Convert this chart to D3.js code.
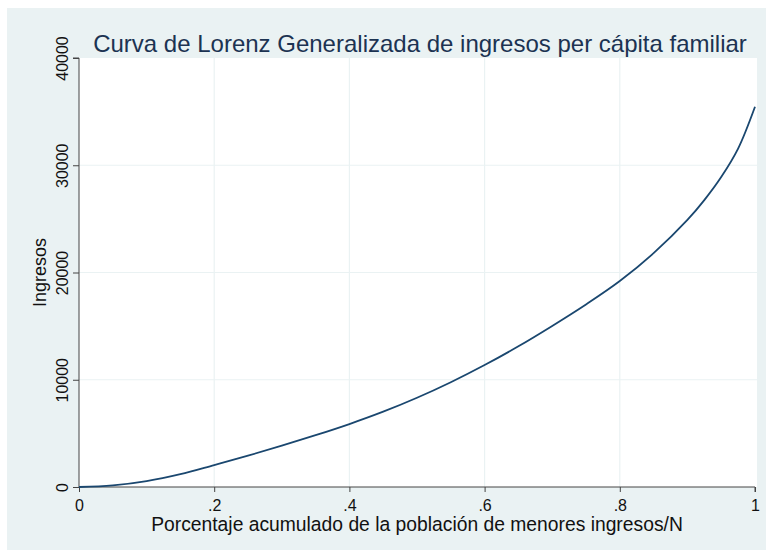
<!DOCTYPE html>
<html>
<head>
<meta charset="utf-8">
<script src="https://cdn.jsdelivr.net/npm/d3@7"></script>
<style>
  body { margin: 0; background: #ffffff; }
  text { font-family: "Liberation Sans", Arial, sans-serif; }
</style>
</head>
<body>
<div id="chart"></div>
<script>
// cumulative population share (p) and generalized Lorenz ordinate (income)
const shares = [0, 0.05, 0.1, 0.15, 0.2, 0.25, 0.3, 0.35, 0.4, 0.45, 0.5, 0.55, 0.6,
                0.65, 0.7, 0.75, 0.8, 0.85, 0.9, 0.925, 0.95, 0.975, 1];
const incomes = [0, 150, 550, 1200, 2050, 2920, 3850, 4830, 5870, 7020, 8320, 9770, 11370,
                 13120, 15020, 17020, 19200, 21800, 24900, 26750, 28900, 31550, 35450];
const xTicks = [0, 0.2, 0.4, 0.6, 0.8, 1];
const xTickLabels = ['0', '.2', '.4', '.6', '.8', '1'];
const yTicks = [0, 10000, 20000, 30000, 40000];

const W = 766, H = 550;
const plotLeft = 79, plotRight = 755, plotTop = 58, plotBottom = 487;

const svg = d3.select('#chart').append('svg')
    .attr('width', W)
    .attr('height', H);

// outer graph region
svg.append('rect')
    .attr('x', 7).attr('y', 8)
    .attr('width', W - 7).attr('height', H - 8)
    .style('fill', '#eaf2f3');

// plot region
svg.append('rect')
    .attr('x', plotLeft).attr('y', plotTop)
    .attr('width', plotRight - plotLeft + 2).attr('height', plotBottom - plotTop)
    .style('fill', '#ffffff');

const x = d3.scaleLinear().domain([0, 1]).range([plotLeft, plotRight]);
const y = d3.scaleLinear().domain([0, 40000]).range([plotBottom, plotTop]);

// grid lines
svg.append('g').selectAll('line')
    .data(xTicks.filter(d => d > 0 && d < 1))
    .join('line')
      .attr('x1', d => x(d)).attr('x2', d => x(d))
      .attr('y1', plotTop).attr('y2', plotBottom)
      .style('stroke', '#eaf2f3')
      .style('stroke-width', 1.2);

svg.append('g').selectAll('line')
    .data(yTicks.filter(d => d > 0 && d < 40000))
    .join('line')
      .attr('x1', plotLeft).attr('x2', plotRight + 2)
      .attr('y1', d => y(d)).attr('y2', d => y(d))
      .style('stroke', '#eaf2f3')
      .style('stroke-width', 1.2);

// axes
const xAxis = d3.axisBottom(x)
    .tickValues(xTicks)
    .tickFormat((d, i) => xTickLabels[i])
    .tickSize(5)
    .tickPadding(8);

const gx = svg.append('g')
    .attr('transform', `translate(0,${plotBottom})`)
    .call(xAxis);
gx.select('.domain').attr('d', `M${plotLeft},0H${plotRight}V5`).style('stroke', '#444');
gx.selectAll('.tick line').style('stroke', '#444');
gx.selectAll('.tick text')
    .style('font-size', '16px')
    .style('fill', '#111')
    .style('font-family', '"Liberation Sans", Arial, sans-serif');

const yAxis = d3.axisLeft(y)
    .tickValues(yTicks)
    .tickFormat(d3.format('d'))
    .tickSize(6)
    .tickPadding(4);

const gy = svg.append('g')
    .attr('transform', `translate(${plotLeft},0)`)
    .call(yAxis);
gy.select('.domain').attr('d', `M-6,${plotTop}H0V${plotBottom}`).style('stroke', '#444');
gy.selectAll('.tick line').style('stroke', '#444');
// labels rotated about a point just left of each tick
gy.selectAll('.tick text')
    .attr('x', 0)
    .attr('y', 0)
    .attr('dy', 0)
    .attr('transform', 'translate(-11,0) rotate(-90)')
    .attr('text-anchor', 'middle')
    .style('font-size', '16px')
    .style('fill', '#111')
    .style('font-family', '"Liberation Sans", Arial, sans-serif');

// the curve
const line = d3.line()
    .x((d, i) => x(shares[i]))
    .y(d => y(d))
    .curve(d3.curveCatmullRom.alpha(0.5));

svg.append('path')
    .datum(incomes)
    .attr('d', line)
    .style('fill', 'none')
    .style('stroke', '#1a476f')
    .style('stroke-width', 1.8);

// titles
svg.append('text')
    .attr('x', 420).attr('y', 52)
    .attr('text-anchor', 'middle')
    .style('font-size', '24px')
    .style('fill', '#1c3352')
    .text('Curva de Lorenz Generalizada de ingresos per cápita familiar');

svg.append('text')
    .attr('x', 417).attr('y', 531)
    .attr('text-anchor', 'middle')
    .style('font-size', '19.3px')
    .style('fill', '#111')
    .text('Porcentaje acumulado de la población de menores ingresos/N');

svg.append('text')
    .attr('transform', `translate(46,${(plotTop + plotBottom) / 2}) rotate(-90)`)
    .attr('text-anchor', 'middle')
    .style('font-size', '18px')
    .style('fill', '#111')
    .text('Ingresos');
</script>
</body>
</html>
